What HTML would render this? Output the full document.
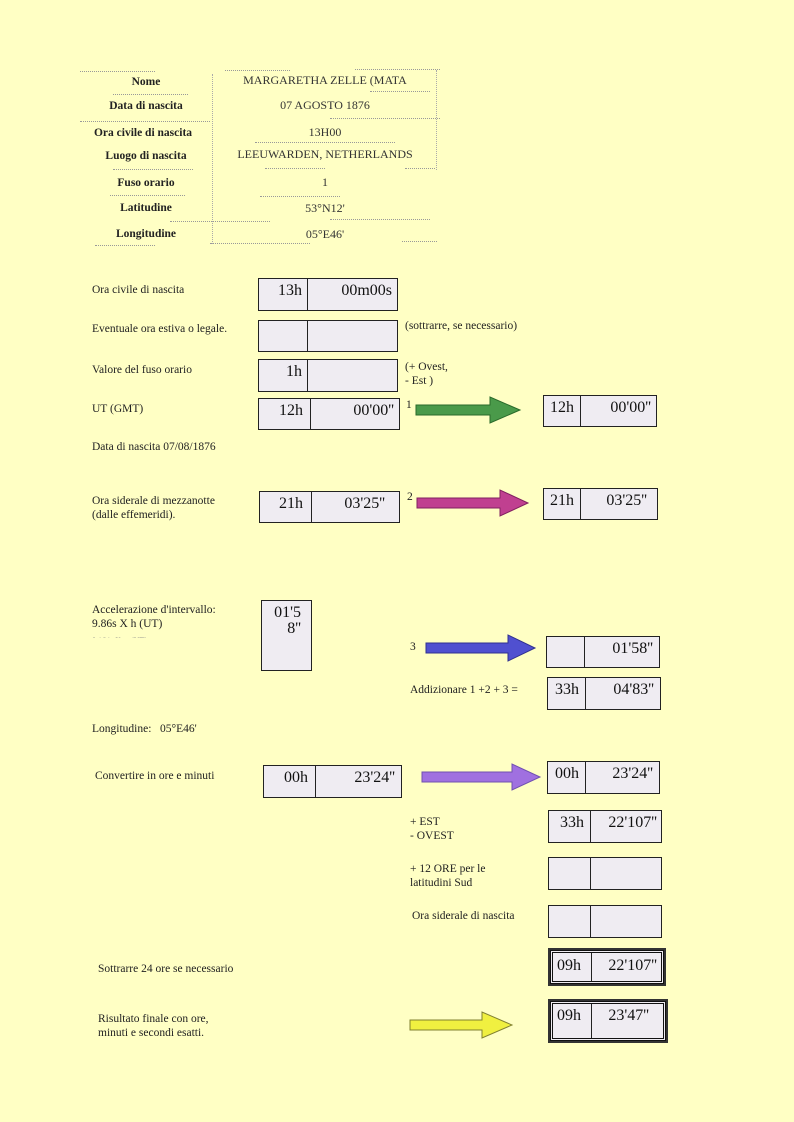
<!DOCTYPE html>
<html><head><meta charset="utf-8"><style>
body{margin:0;width:794px;height:1122px;background:#ffffc4;position:relative;overflow:hidden;font-family:"Liberation Serif",serif;color:#222;}
.t{position:absolute;font-size:11.5px;line-height:14px;white-space:nowrap;}
.b{position:absolute;font-size:11.5px;font-weight:bold;width:130px;text-align:center;left:81px;}
.v{position:absolute;font-size:12px;width:230px;text-align:center;left:210px;color:#333;}
.bx{position:absolute;border:1px solid #222;background:#efecf2;box-sizing:border-box;font-size:16px;line-height:20px;color:#111;}
.bx .d{position:absolute;top:0;bottom:0;border-left:1px solid #222;}
.bx span{position:absolute;top:2px;white-space:nowrap;}
.dot{position:absolute;border-top:1px dotted #999;height:0;}
.thick{border:3px double #111;outline:2px solid #333;}
</style></head><body>

<div class="dot" style="left:80px;top:71px;width:75px"></div>
<div class="dot" style="left:225px;top:70px;width:65px"></div>
<div class="dot" style="left:355px;top:69px;width:85px"></div>
<div class="dot" style="left:113px;top:94px;width:75px"></div>
<div class="dot" style="left:370px;top:91px;width:60px"></div>
<div class="dot" style="left:80px;top:121px;width:130px"></div>
<div class="dot" style="left:330px;top:118px;width:110px"></div>
<div class="dot" style="left:255px;top:142px;width:140px"></div>
<div class="dot" style="left:113px;top:169px;width:80px"></div>
<div class="dot" style="left:265px;top:168px;width:60px"></div>
<div class="dot" style="left:405px;top:168px;width:30px"></div>
<div class="dot" style="left:110px;top:195px;width:75px"></div>
<div class="dot" style="left:260px;top:196px;width:80px"></div>
<div class="dot" style="left:170px;top:221px;width:100px"></div>
<div class="dot" style="left:330px;top:219px;width:100px"></div>
<div class="dot" style="left:95px;top:245px;width:60px"></div>
<div class="dot" style="left:210px;top:243px;width:100px"></div>
<div class="dot" style="left:402px;top:241px;width:35px"></div>
<div style="position:absolute;left:212px;top:74px;height:170px;border-left:1px dotted #aaa"></div>
<div style="position:absolute;left:436px;top:70px;height:100px;border-left:1px dotted #aaa"></div>

<div class="b" style="top:76px">Nome</div>
<div class="b" style="top:100px">Data di nascita</div>
<div class="b" style="top:127px;left:78px">Ora civile di nascita</div>
<div class="b" style="top:150px">Luogo di nascita</div>
<div class="b" style="top:177px">Fuso orario</div>
<div class="b" style="top:202px">Latitudine</div>
<div class="b" style="top:228px">Longitudine</div>
<div class="v" style="top:73px">MARGARETHA ZELLE (MATA</div>
<div class="v" style="top:98px">07 AGOSTO 1876</div>
<div class="v" style="top:125px">13H00</div>
<div class="v" style="top:147px">LEEUWARDEN, NETHERLANDS</div>
<div class="v" style="top:175px">1</div>
<div class="v" style="top:201px">53°N12'</div>
<div class="v" style="top:227px">05°E46'</div>

<div class="t" style="left:92px;top:283px">Ora civile di nascita</div>
<div class="t" style="left:92px;top:322px">Eventuale ora estiva o legale.</div>
<div class="t" style="left:92px;top:363px">Valore del fuso orario</div>
<div class="t" style="left:92px;top:402px">UT (GMT)</div>
<div class="t" style="left:92px;top:440px">Data di nascita 07/08/1876</div>
<div class="t" style="left:92px;top:494px">Ora siderale di mezzanotte<br>(dalle effemeridi).</div>
<div class="t" style="left:92px;top:603px">Accelerazione d'intervallo:<br>9.86s X h (UT)</div>
<div class="t" style="left:92px;top:634px;font-size:8px;color:#888;height:4px;overflow:hidden">0.164s X m (UT)</div>
<div class="t" style="left:92px;top:722px">Longitudine:&nbsp;&nbsp; 05°E46'</div>
<div class="t" style="left:95px;top:769px">Convertire in ore e minuti</div>
<div class="t" style="left:98px;top:962px">Sottrarre 24 ore se necessario</div>
<div class="t" style="left:98px;top:1012px">Risultato finale con ore,<br>minuti e secondi esatti.</div>

<div class="t" style="left:405px;top:319px">(sottrarre, se necessario)</div>
<div class="t" style="left:405px;top:360px">(+ Ovest,<br>- Est )</div>
<div class="t" style="left:406px;top:398px">1</div>
<div class="t" style="left:407px;top:490px">2</div>
<div class="t" style="left:410px;top:640px">3</div>
<div class="t" style="left:410px;top:683px">Addizionare 1 +2 + 3 =</div>
<div class="t" style="left:410px;top:815px">+ EST<br>- OVEST</div>
<div class="t" style="left:410px;top:862px">+ 12 ORE per le<br>latitudini Sud</div>
<div class="t" style="left:412px;top:909px">Ora siderale di nascita</div>

<div class="bx" style="left:258px;top:278px;width:140px;height:33px"><div class="d" style="left:48px"></div><span style="right:95px">13h</span><span style="right:5px">00m00s</span></div>
<div class="bx" style="left:258px;top:320px;width:140px;height:32px"><div class="d" style="left:48px"></div></div>
<div class="bx" style="left:258px;top:359px;width:140px;height:33px"><div class="d" style="left:48px"></div><span style="right:95px">1h</span></div>
<div class="bx" style="left:258px;top:398px;width:142px;height:32px"><div class="d" style="left:51px"></div><span style="right:96px">12h</span><span style="right:5px">00'00''</span></div>
<div class="bx" style="left:543px;top:395px;width:114px;height:32px"><div class="d" style="left:36px"></div><span style="right:82px">12h</span><span style="right:5px">00'00''</span></div>
<div class="bx" style="left:259px;top:491px;width:141px;height:32px"><div class="d" style="left:51px"></div><span style="right:96px">21h</span><span style="right:14px">03'25''</span></div>
<div class="bx" style="left:543px;top:488px;width:115px;height:32px"><div class="d" style="left:36px"></div><span style="right:83px">21h</span><span style="right:10px">03'25''</span></div>
<div class="bx" style="left:261px;top:600px;width:51px;height:71px"><span style="right:10px">01'5</span><span style="right:10px;top:18px">8''</span></div>
<div class="bx" style="left:546px;top:636px;width:114px;height:32px"><div class="d" style="left:37px"></div><span style="right:6px">01'58''</span></div>
<div class="bx" style="left:547px;top:677px;width:114px;height:33px"><div class="d" style="left:37px"></div><span style="right:81px">33h</span><span style="right:6px">04'83''</span></div>
<div class="bx" style="left:263px;top:765px;width:139px;height:33px"><div class="d" style="left:51px"></div><span style="right:93px">00h</span><span style="right:6px">23'24''</span></div>
<div class="bx" style="left:547px;top:761px;width:113px;height:33px"><div class="d" style="left:37px"></div><span style="right:80px">00h</span><span style="right:6px">23'24''</span></div>
<div class="bx" style="left:548px;top:810px;width:114px;height:33px"><div class="d" style="left:41px"></div><span style="right:77px">33h</span><span style="right:4px">22'107''</span></div>
<div class="bx" style="left:548px;top:857px;width:114px;height:33px"><div class="d" style="left:41px"></div></div>
<div class="bx" style="left:548px;top:905px;width:114px;height:33px"><div class="d" style="left:41px"></div></div>
<div class="bx thick" style="left:550px;top:950px;width:114px;height:34px"><div class="d" style="left:38px"></div><span style="left:4px;top:3px">09h</span><span style="right:4px;top:3px">22'107''</span></div>
<div class="bx thick" style="left:550px;top:1001px;width:116px;height:40px"><div class="d" style="left:38px"></div><span style="left:4px">09h</span><span style="right:14px">23'47''</span></div>

<svg width="794" height="1122" style="position:absolute;left:0;top:0">
<polygon points="416,405 490,405 490,397 520,410 490,423 490,415 416,415" fill="#4a9a4a" stroke="#2a6a2a"/>
<polygon points="417,498 500,498 500,490 528,503 500,516 500,508 417,508" fill="#c04090" stroke="#802060"/>
<polygon points="426,643 508,643 508,635 535,648 508,661 508,653 426,653" fill="#5050d0" stroke="#303090"/>
<polygon points="422,772 512,772 512,764 540,777 512,790 512,782 422,782" fill="#a070e0" stroke="#7050b0"/>
<polygon points="410,1020 482,1020 482,1012 512,1025 482,1038 482,1030 410,1030" fill="#f0f040" stroke="#808030"/>
</svg>
</body></html>
